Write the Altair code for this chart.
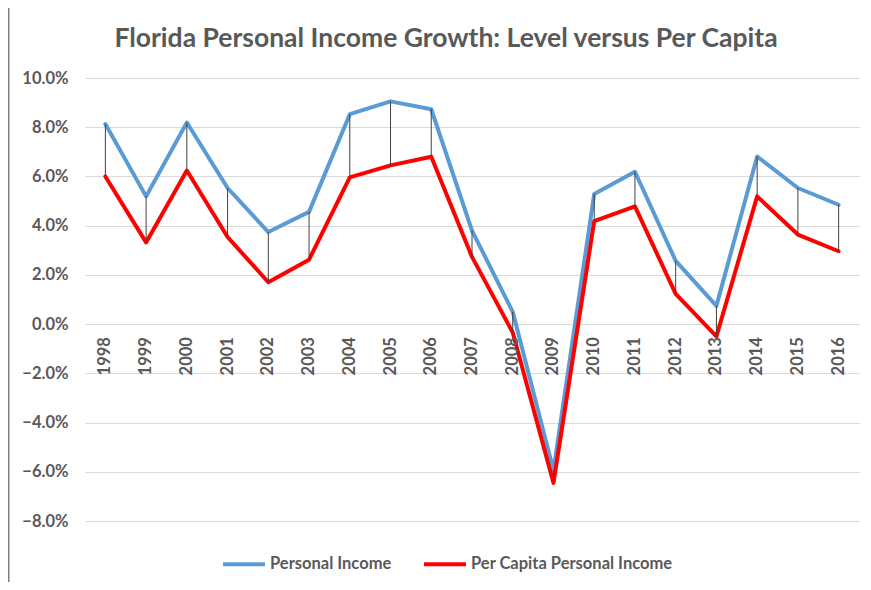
import altair as alt
import pandas as pd

years = [str(y) for y in range(1998, 2017)]
personal_income = [8.13, 5.19, 8.19, 5.53, 3.74, 4.56, 8.53, 9.05, 8.73, 3.80, 0.50, -5.95,
                   5.29, 6.19, 2.57, 0.74, 6.81, 5.53, 4.85]
per_capita = [6.00, 3.32, 6.24, 3.54, 1.70, 2.62, 5.96, 6.45, 6.80, 2.73, -0.34, -6.45,
              4.18, 4.78, 1.23, -0.50, 5.19, 3.64, 2.96]
series_names = ["Personal Income", "Per Capita Personal Income"]
series_colors = ["#5B9BD5", "#FF0000"]
y_ticks = [-8, -6, -4, -2, 0, 2, 4, 6, 8, 10]

TEXT = "#595959"
FONT = "Lato"
FS = 16.5

wide = pd.DataFrame({"year": years, "pi": personal_income, "pc": per_capita,
                     "zero": [0] * len(years)})
long = pd.concat([
    pd.DataFrame({"year": years, "series": series_names[0], "value": personal_income}),
    pd.DataFrame({"year": years, "series": series_names[1], "value": per_capita}),
])

xenc = alt.X("year:O", scale=alt.Scale(type="point", padding=0.5), axis=None)
yscale = alt.Scale(domain=[-8, 10], nice=False, zero=False)
yaxis = alt.Axis(values=y_ticks, labelExpr="format(datum.value, '.1f') + '%'",
                 grid=True, gridColor="#D9D9D9", gridWidth=1, domain=False, ticks=False,
                 labelPadding=17, title=None, labelFontSize=FS, labelFontWeight="bold",
                 labelColor=TEXT, labelFont=FONT)

color = alt.Color("series:N", scale=alt.Scale(domain=series_names, range=series_colors),
                  legend=alt.Legend(orient="none", legendX=136, legendY=463,
                                    direction="horizontal", title=None,
                                    symbolType="stroke", symbolStrokeWidth=4,
                                    symbolSize=1764, labelFontSize=FS, labelFont=FONT,
                                    labelFontWeight="bold", labelColor=TEXT,
                                    labelOffset=3, columnPadding=24, labelLimit=400))

base_long = alt.Chart(long)
blue = base_long.transform_filter(alt.datum.series == series_names[0]).mark_line(
    strokeWidth=4, strokeJoin="round", strokeCap="round").encode(
    x=xenc, y=alt.Y("value:Q", scale=yscale, axis=yaxis), color=color)
red = base_long.transform_filter(alt.datum.series == series_names[1]).mark_line(
    strokeWidth=4, strokeJoin="round", strokeCap="round").encode(
    x=xenc, y=alt.Y("value:Q", scale=yscale, axis=yaxis), color=color)

drops = alt.Chart(wide).mark_rule(color="#404040", strokeWidth=1).encode(
    x=xenc, y=alt.Y("pi:Q", scale=yscale, axis=yaxis), y2="pc:Q")

labels = alt.Chart(wide).mark_text(angle=270, align="right", baseline="middle", dx=-13,
                                   fontSize=FS, fontWeight="bold", color=TEXT,
                                   font=FONT).encode(
    x=xenc, y=alt.Y("zero:Q", scale=yscale, axis=yaxis), text="year:N")

border = alt.Chart(pd.DataFrame({"a": [0]})).mark_rule(color="#7F7F7F", strokeWidth=2).encode(
    x=alt.value(-76.5), y=alt.value(-70), y2=alt.value(504))

chart = alt.layer(blue, red, drops, labels, border).properties(
    width=774, height=443,
    title=alt.TitleParams("Florida Personal Income Growth: Level versus Per Capita",
                          fontSize=26.5, font=FONT, fontWeight="bold", color=TEXT,
                          anchor="middle", dx=-26, offset=-45),
    autosize=alt.AutoSizeParams(type="none"),
    padding={"left": 77, "top": 70, "right": 4, "bottom": 61},
).configure_view(stroke=None)

chart.save("out.html", embed_options={"renderer": "svg", "actions": False})
